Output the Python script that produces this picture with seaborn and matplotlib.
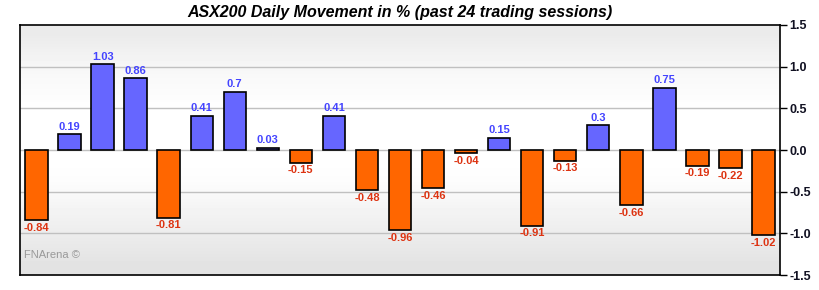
import numpy as np
import pandas as pd
import matplotlib
matplotlib.use("Agg")
import matplotlib.pyplot as plt
import seaborn as sns
from matplotlib.colors import LinearSegmentedColormap

sessions = list(range(1, 24))
values = [-0.84, 0.19, 1.03, 0.86, -0.81, 0.41, 0.7, 0.03, -0.15, 0.41, -0.48,
          -0.96, -0.46, -0.04, 0.15, -0.91, -0.13, 0.3, -0.66, 0.75, -0.19, -0.22, -1.02]
yticks = [-1.5, -1.0, -0.5, 0.0, 0.5, 1.0, 1.5]
title = "ASX200 Daily Movement in % (past 24 trading sessions)"

sns.set_theme(style="white")
plt.rcParams['font.family'] = ['Liberation Sans', 'DejaVu Sans']

df = pd.DataFrame({"session": [str(s) for s in sessions], "value": values})
df["sign"] = np.where(df["value"] >= 0, "pos", "neg")

fig = plt.figure(figsize=(8.2, 2.9), dpi=100)
ax = fig.add_axes([0.0244, 0.0517, 0.9268, 0.8621])

# gradient background
grad = np.array([0.92, 0.95, 0.975, 0.99, 1.0, 1.0, 1.0, 0.99, 0.965, 0.94, 0.915, 0.89])
cmap = LinearSegmentedColormap.from_list("g", ["#000000", "#ffffff"])
ax.imshow(grad.reshape(-1, 1), aspect="auto", cmap=cmap, vmin=0, vmax=1,
          extent=[-0.5, len(values) - 0.5, -1.5, 1.5], zorder=0, interpolation="bilinear")

for t in yticks[1:-1]:
    ax.axhline(t, color="#c0c0c0", lw=1, zorder=1)

sns.barplot(data=df, x="session", y="value", hue="sign",
            palette={"pos": "#6666ff", "neg": "#ff6600"}, dodge=False, saturation=1,
            width=0.68, edgecolor="black", linewidth=1.2, legend=False, ax=ax, zorder=3)

for i, v in enumerate(values):
    if v >= 0:
        ax.text(i, v + 0.03, f"{v:g}", ha="center", va="bottom", color="#4444ff",
                fontsize=8, fontweight="bold", zorder=4)
    else:
        ax.text(i, v - 0.03, f"{v:g}", ha="center", va="top", color="#dd3311",
                fontsize=8, fontweight="bold", zorder=4)

ax.set_xlim(-0.5, len(values) - 0.5)
ax.set_ylim(-1.5, 1.5)
ax.set_xticks([])
ax.set_xlabel("")
ax.set_ylabel("")
ax.yaxis.tick_right()
ax.set_yticks(yticks)
ax.set_yticklabels([f"{t:.1f}" for t in yticks], fontsize=9, fontweight="bold", color="#111122")
ax.tick_params(axis="y", right=True, length=5, width=1, color="black", direction="out", pad=2)
for s in ax.spines.values():
    s.set_color("black")
    s.set_linewidth(1.2)
    s.set_visible(True)

ax.text(0.005, 0.06, "FNArena ©", transform=ax.transAxes, fontsize=8, color="#999999",
        ha="left", va="bottom")
fig.text(0.5 * (0.0244 + 0.951), 0.958, title, ha="center", va="center",
         fontsize=11.5, fontweight="bold", fontstyle="italic", color="black")

fig.savefig("out.png", dpi=100)
